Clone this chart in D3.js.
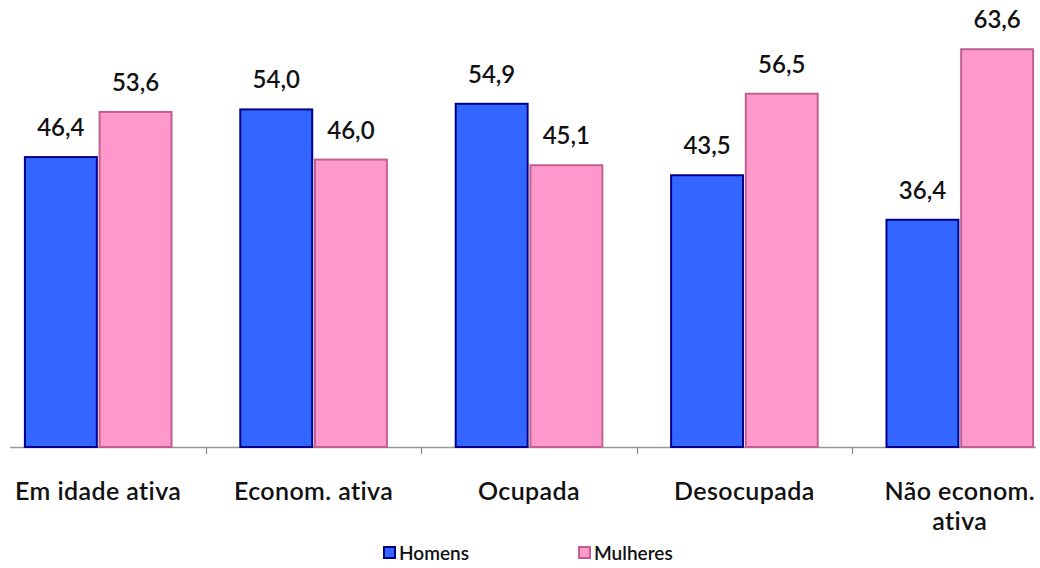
<!DOCTYPE html>
<html><head><meta charset="utf-8">
<script src="https://cdn.jsdelivr.net/npm/d3@7"></script>
<style>body{margin:0;background:#fff}svg{display:block}</style>
</head><body>
<svg id="c" width="1040" height="568"></svg>
<script>
const categories = ["Em idade ativa", "Econom. ativa", "Ocupada", "Desocupada", "Não econom. ativa"];
const categoryLines = [["Em idade ativa"], ["Econom. ativa"], ["Ocupada"], ["Desocupada"], ["Não econom.", "ativa"]];
const seriesNames = ["Homens", "Mulheres"];
const homens = [46.4, 54.0, 54.9, 43.5, 36.4];
const mulheres = [53.6, 46.0, 45.1, 56.5, 63.6];
const fills = ["#3366FF", "#FF99CC"];
const strokes = ["#000088", "#C06090"];

const svg = d3.select("#c");
const font = "Lato, 'Open Sans', sans-serif";
const baseY = 447;
const x = d3.scaleBand().domain(categories).range([-9.5, 1067.5]).paddingInner(0.31).paddingOuter(0.155);
const x1 = d3.scaleBand().domain(seriesNames).range([0, x.bandwidth()]).paddingInner(0.01);
const y = d3.scaleLinear().domain([0, 70]).range([baseY, baseY - 70 * 6.27]);

// axis line
const step = x.step();
svg.append("line").attr("x1", 10).attr("x2", 1036).attr("y1", baseY + 0.5).attr("y2", baseY + 0.5)
  .attr("stroke", "#999").attr("stroke-width", 1.5);
categories.forEach((c, i) => {
  if (i === 0) return;
  const bx = Math.round(x(c) - step * 0.31 / 2) + 0.5;
  svg.append("line").attr("x1", bx).attr("x2", bx).attr("y1", baseY).attr("y2", baseY + 7)
    .attr("stroke", "#888").attr("stroke-width", 1.2);
});

const data = [homens, mulheres];
seriesNames.forEach((s, si) => {
  const g = svg.append("g");
  categories.forEach((c, i) => {
    const v = data[si][i];
    const bx = x(c) + x1(s);
    const w = x1.bandwidth();
    g.append("rect").attr("x", bx + 1).attr("y", y(v) + 1).attr("width", w - 2).attr("height", baseY - y(v) - 1)
      .attr("fill", fills[si]).attr("stroke", strokes[si]).attr("stroke-width", 2);
    g.append("text").attr("x", bx + w / 2).attr("y", y(v) - 20).attr("text-anchor", "middle")
      .attr("font-family", font).attr("font-size", 24).attr("font-weight", 600).attr("fill", "#111")
      .text(v.toFixed(1).replace(".", ","));
  });
});

// category labels
categories.forEach((c, i) => {
  const cx = x(c) + x.bandwidth() / 2;
  categoryLines[i].forEach((ln, li) => {
    svg.append("text").attr("x", cx).attr("y", 500 + li * 30).attr("text-anchor", "middle")
      .attr("font-family", font).attr("font-size", 25).attr("font-weight", 600)
      .attr("letter-spacing", 0.4).attr("fill", "#111").text(ln);
  });
});

// legend
const legX = [383, 578];
seriesNames.forEach((s, si) => {
  svg.append("rect").attr("x", legX[si] + 1).attr("y", 547).attr("width", 11).attr("height", 11)
    .attr("fill", fills[si]).attr("stroke", strokes[si]).attr("stroke-width", 2);
  svg.append("text").attr("x", legX[si] + 16).attr("y", 560).attr("font-family", font)
    .attr("font-size", 19).attr("font-weight", 600).attr("fill", "#111").text(s);
});
</script>
</body></html>
